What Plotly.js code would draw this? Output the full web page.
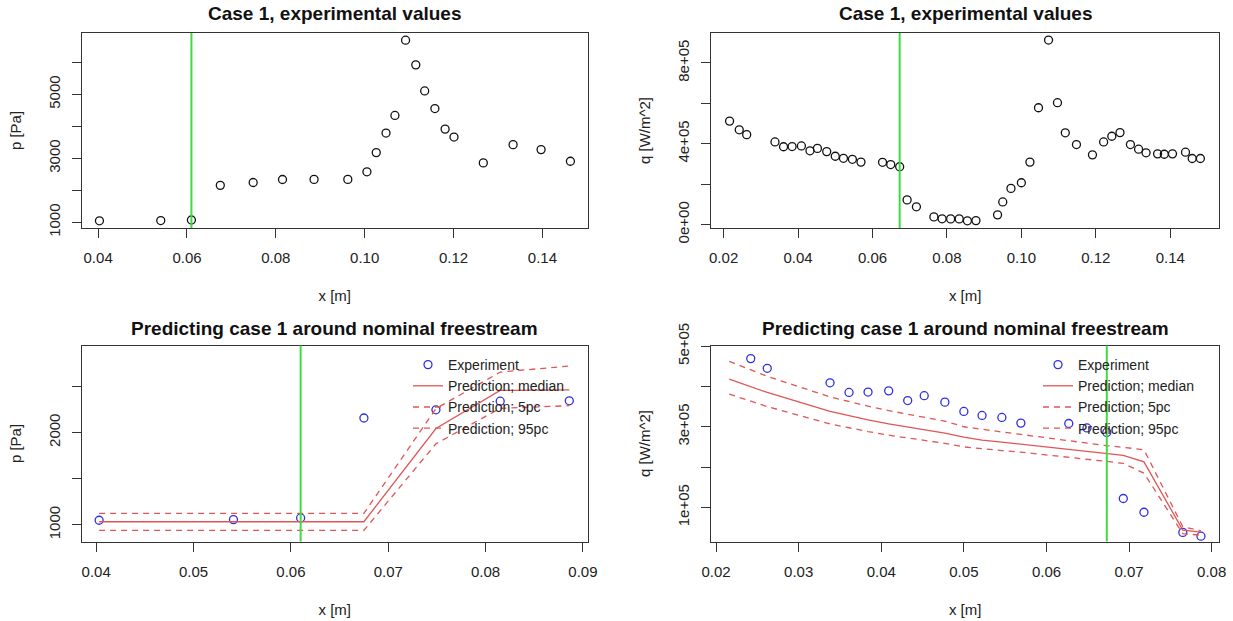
<!DOCTYPE html>
<html>
<head>
<meta charset="utf-8">
<script src="https://cdn.plot.ly/plotly-3.0.1.min.js"></script>
<style>html,body{margin:0;padding:0;background:#fff;}#chart{width:1233px;height:621px;}</style>
</head>
<body>
<div id="chart"></div>
<script>
// ---- Data: pressure, experimental ----
const pX = [0.0403, 0.0541, 0.0610, 0.0675, 0.0749, 0.0815, 0.0886, 0.0962, 0.1005, 0.1026, 0.1048, 0.1068, 0.1092, 0.1115, 0.1135, 0.1158, 0.1181, 0.1201, 0.1267, 0.1334, 0.1397, 0.1463];
const pVal = [1050, 1057, 1075, 2157, 2246, 2339, 2343, 2343, 2580, 3180, 3790, 4340, 6690, 5920, 5105, 4555, 3913, 3665, 2858, 3428, 3273, 2910];

// ---- Data: heat flux, experimental ----
const qX = [0.0216, 0.0242, 0.0262, 0.0338, 0.0361, 0.0384, 0.0409, 0.0432, 0.0452, 0.0477, 0.0500, 0.0522, 0.0546, 0.0569, 0.0627, 0.0649, 0.0673, 0.0693, 0.0718, 0.0765, 0.0787, 0.0810, 0.0833, 0.0855, 0.0878, 0.0936, 0.0950, 0.0972, 0.1000, 0.1023, 0.1046, 0.1073, 0.1097, 0.1118, 0.1148, 0.1191, 0.1221, 0.1243, 0.1265, 0.1293, 0.1315, 0.1335, 0.1366, 0.1384, 0.1406, 0.1441, 0.1459, 0.1481];
const qVal = [512000, 469000, 445000, 409000, 385000, 386000, 389000, 365000, 377000, 361000, 338000, 328000, 323000, 309000, 308000, 297000, 286000, 122000, 88000, 38000, 28500, 28000, 28000, 18500, 19500, 48000, 112000, 179000, 207000, 309000, 578000, 913000, 603000, 454000, 396000, 345000, 409000, 437000, 455000, 396000, 373000, 355000, 350000, 348000, 350000, 358000, 327000, 327000];

// ---- Data: pressure prediction ----
const predPX = [0.0403, 0.0541, 0.0610, 0.0675, 0.0749, 0.0815, 0.0886];
const predPMedian = [1034, 1034, 1034, 1034, 2043, 2456, 2462];
const predP5 = [941, 941, 941, 941, 1878, 2262, 2290];
const predP95 = [1125, 1125, 1125, 1125, 2259, 2654, 2720];

// ---- Data: heat flux prediction ----
const predQX = [0.0216, 0.0242, 0.0262, 0.0338, 0.0361, 0.0384, 0.0409, 0.0432, 0.0452, 0.0477, 0.0500, 0.0522, 0.0546, 0.0569, 0.0627, 0.0649, 0.0673, 0.0693, 0.0718, 0.0765, 0.0787];
const predQMedian = [418000, 400000, 385000, 338000, 327000, 317000, 307000, 299000, 291500, 284000, 274000, 267000, 262000, 257000, 245000, 240000, 235000, 229000, 213000, 43500, 38600];
const predQ5 = [381000, 364000, 350000, 307000, 297000, 288000, 279000, 272000, 265500, 259000, 250000, 245000, 241000, 237000, 225000, 220000, 214000, 209000, 185000, 35000, 31000];
const predQ95 = [462000, 442000, 425000, 374000, 362000, 351000, 340000, 331000, 322500, 314000, 300000, 293000, 287000, 281000, 265000, 259000, 253000, 249000, 243000, 52000, 42000];

// ---- Vertical markers ----
const pMarkX = 0.0610;
const qMarkX = 0.0673;

// ---- Tick labels ----
const ticksTL_x = [0.04, 0.06, 0.08, 0.10, 0.12, 0.14];
const ticksTL_xText = ["0.04", "0.06", "0.08", "0.10", "0.12", "0.14"];
const ticksTL_y = [1000, 2000, 3000, 4000, 5000, 6000];
const ticksTL_yText = ["1000", "", "3000", "", "5000", ""];
const ticksTR_x = [0.02, 0.04, 0.06, 0.08, 0.10, 0.12, 0.14];
const ticksTR_xText = ["0.02", "0.04", "0.06", "0.08", "0.10", "0.12", "0.14"];
const ticksTR_y = [0, 200000, 400000, 600000, 800000];
const ticksTR_yText = ["0e+00", "", "4e+05", "", "8e+05"];
const ticksBL_x = [0.04, 0.05, 0.06, 0.07, 0.08, 0.09];
const ticksBL_xText = ["0.04", "0.05", "0.06", "0.07", "0.08", "0.09"];
const ticksBL_y = [1000, 1500, 2000, 2500];
const ticksBL_yText = ["1000", "", "2000", ""];
const ticksBR_x = [0.02, 0.03, 0.04, 0.05, 0.06, 0.07, 0.08];
const ticksBR_xText = ["0.02", "0.03", "0.04", "0.05", "0.06", "0.07", "0.08"];
const ticksBR_y = [100000, 200000, 300000, 400000, 500000];
const ticksBR_yText = ["1e+05", "", "3e+05", "", "5e+05"];

const FONT = "Liberation Sans, Arial, Helvetica, sans-serif";
const AXC = "#333333";
const RED = "#e05555";
const BLUE = "#2f2fe0";
const GREEN = "#3fdc3f";
const DASH = "6px,5px";

function xAxis(range, domain, anchor, tv, tt) {
  return {
    range: range, domain: domain, anchor: anchor,
    tickmode: "array", tickvals: tv, ticktext: tt,
    ticks: "outside", ticklen: 9, tickwidth: 1, tickcolor: AXC,
    ticklabelstandoff: 7,
    showline: true, mirror: true, linecolor: AXC, linewidth: 1,
    showgrid: false, zeroline: false,
    tickfont: {family: FONT, size: 15, color: "#222"},
    title: {text: "x [m]", font: {family: FONT, size: 15, color: "#222"}, standoff: 25}
  };
}
function yAxis(range, domain, anchor, tv, tt, title) {
  return {
    range: range, domain: domain, anchor: anchor,
    tickmode: "array", tickvals: tv, ticktext: tt, tickangle: -90,
    ticks: "outside", ticklen: 9, tickwidth: 1, tickcolor: AXC,
    ticklabelstandoff: 6,
    showline: true, mirror: true, linecolor: AXC, linewidth: 1,
    showgrid: false, zeroline: false,
    tickfont: {family: FONT, size: 15, color: "#222"},
    title: {text: title, font: {family: FONT, size: 15, color: "#222"}, standoff: 20}
  };
}

const openBlack = {symbol: "circle-open", size: 8, color: "#111", line: {width: 1.3, color: "#111"}};
const openBlue = {symbol: "circle-open", size: 8, color: BLUE, line: {width: 1.3, color: BLUE}};

const nPredP = predPX.length;
const nPredQ = predQX.length;

const traces = [
  {x: pX, y: pVal, xaxis: "x", yaxis: "y", mode: "markers", type: "scatter", marker: openBlack, showlegend: false},
  {x: qX, y: qVal, xaxis: "x2", yaxis: "y2", mode: "markers", type: "scatter", marker: openBlack, showlegend: false},

  {x: pX.slice(0, nPredP), y: pVal.slice(0, nPredP), xaxis: "x3", yaxis: "y3", mode: "markers", type: "scatter", marker: openBlue, name: "Experiment", legend: "legend", legendrank: 1},
  {x: predPX, y: predPMedian, xaxis: "x3", yaxis: "y3", mode: "lines", type: "scatter", line: {color: RED, width: 1.3}, name: "Prediction; median", legend: "legend", legendrank: 2},
  {x: predPX, y: predP5, xaxis: "x3", yaxis: "y3", mode: "lines", type: "scatter", line: {color: RED, width: 1.3, dash: DASH}, name: "Prediction; 5pc", legend: "legend", legendrank: 3},
  {x: predPX, y: predP95, xaxis: "x3", yaxis: "y3", mode: "lines", type: "scatter", line: {color: RED, width: 1.3, dash: DASH}, name: "Prediction; 95pc", legend: "legend", legendrank: 4},

  {x: qX.slice(0, nPredQ), y: qVal.slice(0, nPredQ), xaxis: "x4", yaxis: "y4", mode: "markers", type: "scatter", marker: openBlue, name: "Experiment", legend: "legend2", legendrank: 1},
  {x: predQX, y: predQMedian, xaxis: "x4", yaxis: "y4", mode: "lines", type: "scatter", line: {color: RED, width: 1.3}, name: "Prediction; median", legend: "legend2", legendrank: 2},
  {x: predQX, y: predQ5, xaxis: "x4", yaxis: "y4", mode: "lines", type: "scatter", line: {color: RED, width: 1.3, dash: DASH}, name: "Prediction; 5pc", legend: "legend2", legendrank: 3},
  {x: predQX, y: predQ95, xaxis: "x4", yaxis: "y4", mode: "lines", type: "scatter", line: {color: RED, width: 1.3, dash: DASH}, name: "Prediction; 95pc", legend: "legend2", legendrank: 4}
];

const W = 1233, H = 621;
const colL = [81.5 / W, 588 / W];
const colR = [711 / W, 1219.3 / W];
const rowT = [1 - 228 / H, 1 - 33 / H];
const rowB = [1 - 541.5 / H, 1 - 345.5 / H];

function legendAt(xpx) {
  return {
    x: xpx / W, y: 1 - 349 / H, xanchor: "left", yanchor: "top",
    bgcolor: "rgba(0,0,0,0)", borderwidth: 0, itemwidth: 30, tracegroupgap: 0,
    font: {family: FONT, size: 14, color: "#222"}
  };
}

function title(text, cx, ypx) {
  return {text: text, xref: "paper", yref: "paper", x: cx, y: 1 - ypx / H,
    xanchor: "center", yanchor: "middle", showarrow: false,
    font: {family: FONT, size: 19, weight: "bold", color: "#111"}};
}

const layout = {
  width: W, height: H,
  margin: {l: 0, r: 0, t: 0, b: 0},
  paper_bgcolor: "#fff", plot_bgcolor: "#fff",
  showlegend: true,
  xaxis: xAxis([0.03626, 0.15026], colL, "y", ticksTL_x, ticksTL_xText),
  yaxis: yAxis([825, 6915], rowT, "x", ticksTL_y, ticksTL_yText, "p [Pa]"),
  xaxis2: xAxis([0.01661, 0.15318], colR, "y2", ticksTR_x, ticksTR_xText),
  yaxis2: yAxis([-17000, 948000], rowT, "x2", ticksTR_y, ticksTR_yText, "q [W/m^2]"),
  xaxis3: xAxis([0.03849, 0.09052], colL, "y3", ticksBL_x, ticksBL_xText),
  yaxis3: yAxis([820, 2942], rowB, "x3", ticksBL_y, ticksBL_yText, "p [Pa]"),
  xaxis4: xAxis([0.01939, 0.08092], colR, "y4", ticksBR_x, ticksBR_xText),
  yaxis4: yAxis([15400, 501500], rowB, "x4", ticksBR_y, ticksBR_yText, "q [W/m^2]"),
  legend: legendAt(408),
  legend2: legendAt(1038),
  shapes: [
    {type: "line", xref: "x", yref: "y domain", x0: pMarkX, x1: pMarkX, y0: 0, y1: 1, line: {color: GREEN, width: 2}, layer: "above"},
    {type: "line", xref: "x2", yref: "y2 domain", x0: qMarkX, x1: qMarkX, y0: 0, y1: 1, line: {color: GREEN, width: 2}, layer: "above"},
    {type: "line", xref: "x3", yref: "y3 domain", x0: pMarkX, x1: pMarkX, y0: 0, y1: 1, line: {color: GREEN, width: 2}, layer: "above"},
    {type: "line", xref: "x4", yref: "y4 domain", x0: qMarkX, x1: qMarkX, y0: 0, y1: 1, line: {color: GREEN, width: 2}, layer: "above"}
  ],
  annotations: [
    title("Case 1, experimental values", (colL[0] + colL[1]) / 2, 14),
    title("Case 1, experimental values", (colR[0] + colR[1]) / 2, 14),
    title("Predicting case 1 around nominal freestream", (colL[0] + colL[1]) / 2, 328),
    title("Predicting case 1 around nominal freestream", (colR[0] + colR[1]) / 2, 328)
  ]
};

Plotly.newPlot("chart", traces, layout, {displayModeBar: false, staticPlot: true});
</script>
</body>
</html>
